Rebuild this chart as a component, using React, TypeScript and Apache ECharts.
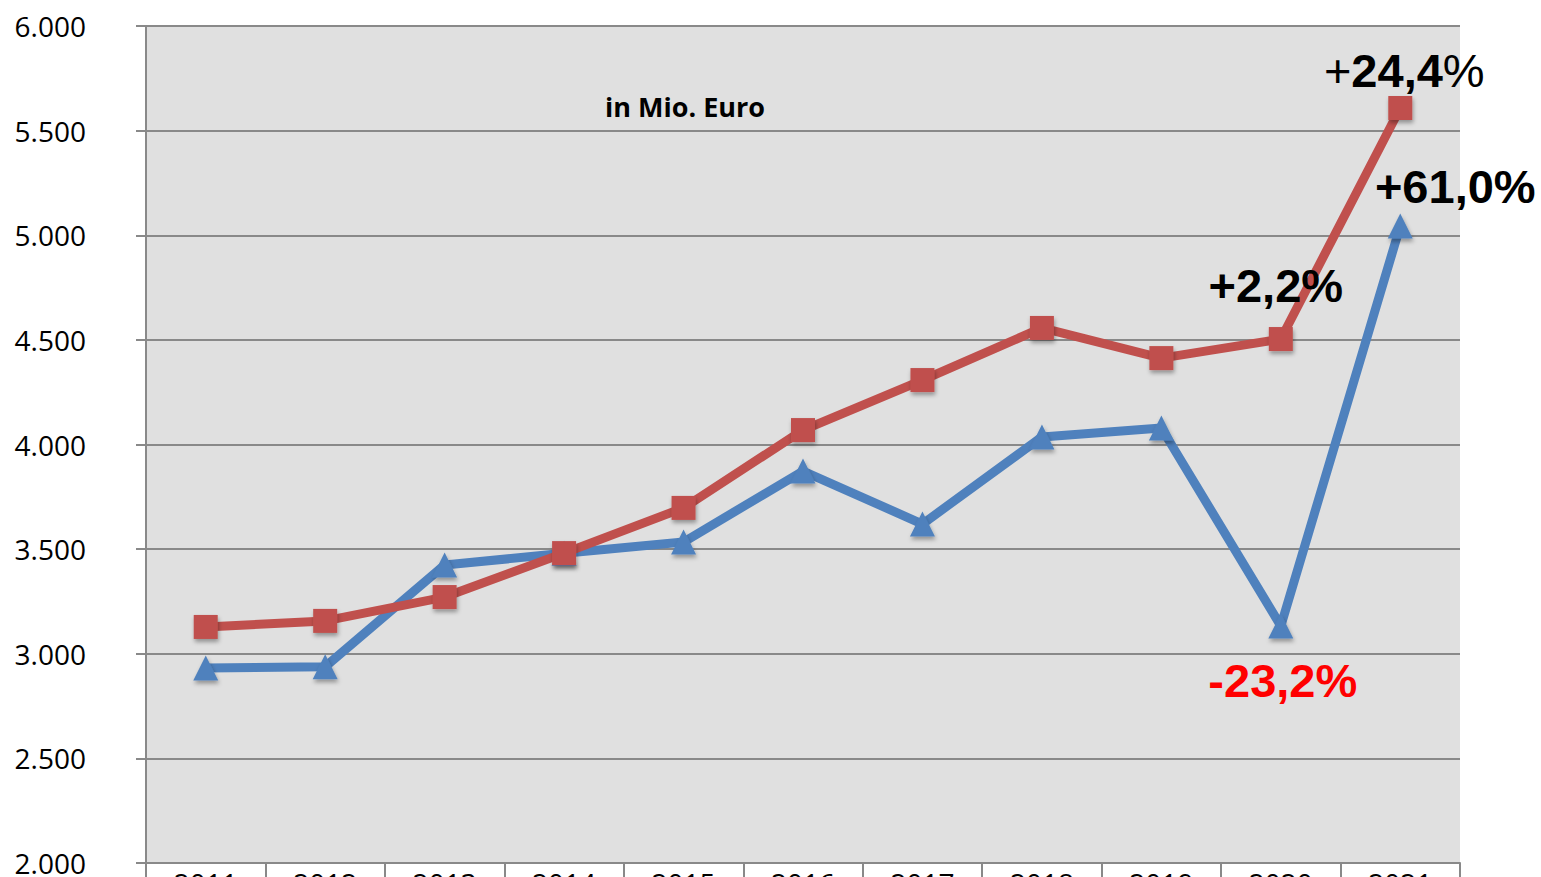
import React, { useEffect, useRef } from "react";
import * as echarts from "echarts";

const years = ["2011", "2012", "2013", "2014", "2015", "2016", "2017", "2018", "2019", "2020", "2021"];
const blueValues = [2932, 2938, 3424, 3480, 3534, 3873, 3620, 4036, 4079, 3133, 5044];
const redValues = [3128, 3157, 3271, 3481, 3697, 4069, 4308, 4557, 4413, 4504, 5608];
const unitNote = "in Mio. Euro";

const RED = "#C0504D";
const BLUE = "#4F81BD";
const GRID = "#898989";

const markerShadow = {
  shadowColor: "rgba(0,0,0,0.35)",
  shadowBlur: 4,
  shadowOffsetX: 1,
  shadowOffsetY: 3,
};

const bigLabel = {
  fontFamily: "Liberation Sans, Arial, sans-serif",
  fontWeight: "bold" as const,
  fontSize: 47,
  color: "#000",
};

export default function App() {
  const ref = useRef<HTMLDivElement>(null);
  useEffect(() => {
    if (!ref.current) return;
    const chart = echarts.init(ref.current, null, { renderer: "svg" });

    const blueData = blueValues.map((v, i) => {
      if (i === 9) {
        return {
          value: v,
          label: { show: true, position: "inside", offset: [2, 55], formatter: "-23,2%", ...bigLabel, color: "#FF0000" },
        };
      }
      if (i === 10) {
        return {
          value: v,
          label: { show: true, position: "inside", offset: [55, -40], formatter: "+61,0%", ...bigLabel },
        };
      }
      return v;
    });
    const redData = redValues.map((v, i) => {
      if (i === 9) {
        return {
          value: v,
          label: { show: true, position: "inside", offset: [-5, -54], formatter: "+2,2%", ...bigLabel },
        };
      }
      if (i === 10) {
        return {
          value: v,
          label: {
            show: true,
            position: "inside",
            offset: [4, -38],
            formatter: "{n|+}{b|24,4}{n|%}",
            rich: {
              n: { ...bigLabel, fontWeight: "normal" },
              b: { ...bigLabel },
            },
          },
        };
      }
      return v;
    });

    chart.setOption({
      animation: false,
      backgroundColor: "#ffffff",
      grid: {
        left: 146,
        right: 81,
        top: 26,
        bottom: 37,
        show: true,
        backgroundColor: "#E0E0E0",
        borderWidth: 0,
      },
      graphic: [
        {
          type: "text",
          left: 605,
          top: 93,
          style: {
            text: unitNote,
            font: "bold 27px 'Open Sans', sans-serif",
            fill: "#000",
          },
        },
      ],
      xAxis: {
        type: "category",
        data: years,
        boundaryGap: true,
        axisLine: { show: true, lineStyle: { color: GRID, width: 2 } },
        axisTick: { show: true, alignWithLabel: false, length: 20, lineStyle: { color: GRID, width: 2 } },
        axisLabel: {
          margin: 6,
          fontFamily: "Open Sans, sans-serif",
          fontSize: 28,
          color: "#000",
        },
        splitLine: { show: false },
      },
      yAxis: {
        type: "value",
        min: 2000,
        max: 6000,
        interval: 500,
        axisLine: { show: true, lineStyle: { color: GRID, width: 2 } },
        axisTick: { show: true, length: 10, lineStyle: { color: GRID, width: 2 } },
        axisLabel: {
          margin: 60,
          fontFamily: "Open Sans, sans-serif",
          fontSize: 28,
          color: "#000",
          formatter: (v: number) => (v / 1000).toFixed(3),
        },
        splitLine: { show: true, lineStyle: { color: GRID, width: 2 } },
      },
      series: [
        {
          type: "line",
          data: blueData,
          symbol: "triangle",
          symbolSize: [25, 25],
          lineStyle: { color: BLUE, width: 9 },
          itemStyle: { color: BLUE, ...markerShadow },
          z: 2,
        },
        {
          type: "line",
          data: redData,
          symbol: "rect",
          symbolSize: 24,
          lineStyle: { color: RED, width: 9 },
          itemStyle: { color: RED, ...markerShadow },
          z: 3,
        },
      ],
    });
    return () => chart.dispose();
  }, []);
  return (
    <div
      ref={ref}
      style={{ position: "fixed", left: 0, top: 0, width: 1541, height: 900 }}
    />
  );
}
